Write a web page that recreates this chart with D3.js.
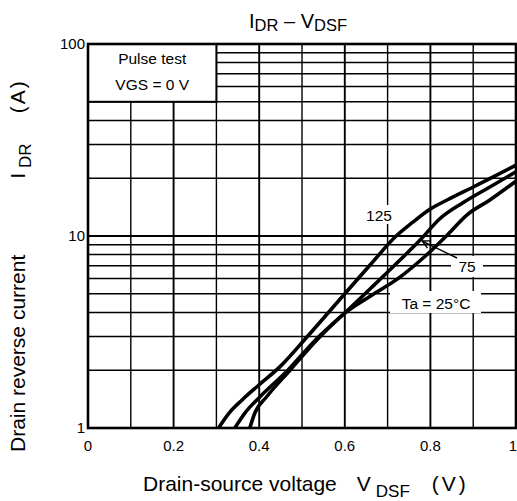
<!DOCTYPE html>
<html>
<head>
<meta charset="utf-8">
<script src="https://cdn.jsdelivr.net/npm/d3@7/dist/d3.min.js"></script>
<style>
  html, body { margin: 0; padding: 0; background: #fff; }
  svg { display: block; }
  text { font-family: "Liberation Sans", Arial, Helvetica, sans-serif; fill: #000; }
</style>
</head>
<body>
<svg id="chart" width="517" height="501"></svg>
<script>
// Axis ticks and grid
const xTicks = [0, 0.2, 0.4, 0.6, 0.8, 1];
const xTickLabels = ["0", "0.2", "0.4", "0.6", "0.8", "1"];
const xGrid = [0.1, 0.2, 0.3, 0.4, 0.5, 0.6, 0.7, 0.8, 0.9];
const yTicks = [1, 10, 100];
const yTickLabels = ["1", "10", "100"];
const yGrid = [2, 3, 4, 5, 6, 7, 8, 9, 10, 20, 30, 40, 50, 60, 70, 80, 90];

// Drain-source voltage (V) and drain reverse current (A) per ambient temperature
const vdsf125 = [0.305, 0.33, 0.36, 0.40, 0.45, 0.51, 0.60, 0.659, 0.72, 0.759, 0.797, 0.839, 0.90, 0.956, 1.0];
const idr125  = [1.0,   1.2,  1.4,  1.68, 2.1,  2.95, 5.0,  7.06,  10.0, 11.8,  13.7,  15.4,  18.0, 20.8,  23.4];

const vdsf75 = [0.343, 0.367, 0.402, 0.467, 0.53, 0.60, 0.664, 0.729, 0.776, 0.822, 0.876, 0.939, 1.0];
const idr75  = [1.0,   1.2,   1.455, 2.0,   2.85, 3.97, 5.43,  7.5,   9.53,  12.3,  14.9,  18.0,  21.6];

const vdsf25 = [0.378, 0.390, 0.4175, 0.472, 0.533, 0.60, 0.664, 0.729, 0.783, 0.839, 0.885, 0.939, 1.0];
const idr25  = [1.0,   1.2,   1.455,  2.0,   2.85,  3.97, 4.93,  6.11,  7.68,  10.1,  12.86, 15.4,  19.3];

const seriesNames = ["125", "75", "Ta = 25°C"];

const svg = d3.select("#chart");
const plotLeft = 88, plotRight = 516, plotTop = 44, plotBottom = 428;

const x = d3.scaleLinear().domain([0, 1]).range([plotLeft, plotRight]);
const y = d3.scaleLog().domain([1, 100]).range([plotBottom, plotTop]);

// grid
const grid = svg.append("g").attr("stroke", "#000");
grid.selectAll("line.v").data(xGrid).join("line")
  .attr("class", "v")
  .attr("x1", d => x(d)).attr("x2", d => x(d))
  .attr("y1", plotTop).attr("y2", plotBottom)
  .attr("stroke-width", (d, i) => (i % 2 === 1 ? 1.9 : 1.4));
grid.selectAll("line.h").data(yGrid).join("line")
  .attr("class", "h")
  .attr("x1", plotLeft).attr("x2", plotRight)
  .attr("y1", d => y(d)).attr("y2", d => y(d))
  .attr("stroke-width", d => (d === 10 ? 2.2 : 1.5));

// condition box in the upper-left corner
const boxG = svg.append("g");
boxG.append("rect")
  .attr("x", x(0)).attr("y", y(100))
  .attr("width", x(0.3) - x(0)).attr("height", y(50) - y(100))
  .attr("fill", "#fff").attr("stroke", "#000").attr("stroke-width", 2);
boxG.append("text").attr("x", (x(0) + x(0.3)) / 2).attr("y", 64)
  .attr("text-anchor", "middle").attr("font-size", 15.5).text("Pulse test");
boxG.append("text").attr("x", (x(0) + x(0.3)) / 2).attr("y", 90)
  .attr("text-anchor", "middle").attr("font-size", 15.5).text("VGS = 0 V");

// white backing for the curve labels
const labelBacks = [
  { x: 364, y: 205, w: 30, h: 19 },
  { x: 451, y: 256, w: 32, h: 21 },
  { x: 390, y: 291, w: 91, h: 22 }
];
svg.append("g").selectAll("rect").data(labelBacks).join("rect")
  .attr("x", d => d.x).attr("y", d => d.y).attr("width", d => d.w).attr("height", d => d.h)
  .attr("fill", "#fff");

// curves
const line = d3.line()
  .x(d => x(d[0]))
  .y(d => y(d[1]))
  .curve(d3.curveMonotoneX);

const series = [
  d3.zip(vdsf125, idr125),
  d3.zip(vdsf75, idr75),
  d3.zip(vdsf25, idr25)
];
svg.append("g").selectAll("path").data(series).join("path")
  .attr("d", line)
  .attr("fill", "none")
  .attr("stroke", "#000")
  .attr("stroke-width", 3.6)
  .attr("stroke-linejoin", "round");

// arrow from the 75 label to its curve
const defs = svg.append("defs");
defs.append("marker")
  .attr("id", "arrowhead")
  .attr("viewBox", "-10 -6 12 12")
  .attr("markerWidth", 12).attr("markerHeight", 12)
  .attr("markerUnits", "userSpaceOnUse")
  .attr("refX", 0).attr("refY", 0)
  .attr("orient", "auto")
  .append("path")
  .attr("d", "M-8,-4 L0,0 L-8,4")
  .attr("fill", "none").attr("stroke", "#000").attr("stroke-width", 1.4);

const tip = [vdsf75[8], idr75[8]];
svg.append("line")
  .attr("x1", 457).attr("y1", 258)
  .attr("x2", x(tip[0]) + 2).attr("y2", y(tip[1]) + 1)
  .attr("stroke", "#000").attr("stroke-width", 1.4)
  .attr("marker-end", "url(#arrowhead)");

// curve labels
const labelPos = [[379, 221], [467, 272], [436, 309]];
svg.append("g").selectAll("text").data(seriesNames).join("text")
  .attr("x", (d, i) => labelPos[i][0]).attr("y", (d, i) => labelPos[i][1])
  .attr("text-anchor", "middle").attr("font-size", 15.5)
  .text(d => d);

// frame
svg.append("rect")
  .attr("x", plotLeft).attr("y", plotTop)
  .attr("width", plotRight - plotLeft).attr("height", plotBottom - plotTop)
  .attr("fill", "none").attr("stroke", "#000").attr("stroke-width", 2.6);

// tick labels
svg.append("g").selectAll("text").data(xTicks).join("text")
  .attr("x", (d, i) => (i === xTicks.length - 1 ? 517 : x(d))).attr("y", 451)
  .attr("text-anchor", (d, i) => (i === xTicks.length - 1 ? "end" : "middle"))
  .attr("font-size", 15)
  .text((d, i) => xTickLabels[i]);
svg.append("g").selectAll("text").data(yTicks).join("text")
  .attr("x", 85).attr("y", d => y(d))
  .attr("dy", "0.35em")
  .attr("text-anchor", "end").attr("font-size", 15)
  .text((d, i) => yTickLabels[i]);

// title
const title = svg.append("text").attr("x", 298).attr("y", 28)
  .attr("text-anchor", "middle").attr("font-size", 20);
title.append("tspan").text("I");
title.append("tspan").attr("font-size", 16.5).attr("dy", 3).text("DR");
title.append("tspan").attr("dy", -3).text(" – V");
title.append("tspan").attr("font-size", 16.5).attr("dy", 3).text("DSF");

// x-axis title
const xt = svg.append("text").attr("x", 143).attr("y", 491)
  .attr("text-anchor", "start").attr("font-size", 21);
xt.append("tspan").text("Drain-source voltage");
xt.append("tspan").attr("dx", 20).text("V");
xt.append("tspan").attr("font-size", 17).attr("dx", 5).attr("dy", 6).text("DSF");
xt.append("tspan").attr("dx", 22).attr("dy", -6).attr("letter-spacing", 3).text("(V)");

// y-axis title
const yt = svg.append("text")
  .attr("transform", "translate(25,452) rotate(-90)")
  .attr("text-anchor", "start").attr("font-size", 21);
yt.append("tspan").text("Drain reverse current");
yt.append("tspan").attr("dx", 76).text("I");
yt.append("tspan").attr("font-size", 17).attr("dx", 5).attr("dy", 6).text("DR");
yt.append("tspan").attr("dx", 30).attr("dy", -6).attr("letter-spacing", 2).text("(A)");
</script>
</body>
</html>
